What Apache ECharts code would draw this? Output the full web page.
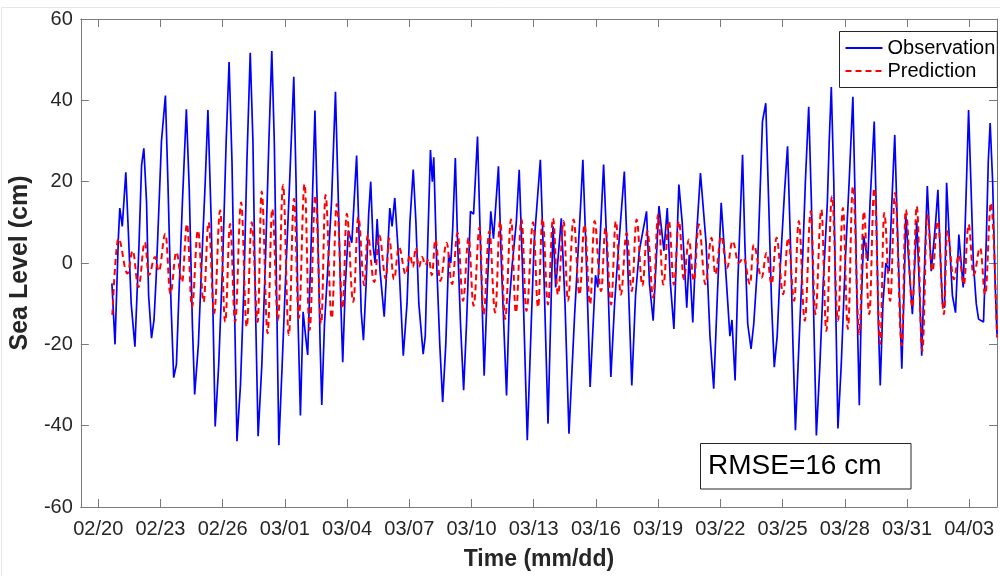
<!DOCTYPE html>
<html>
<head>
<meta charset="utf-8">
<title>Sea Level: Observation vs Prediction</title>
<script src="https://cdn.jsdelivr.net/npm/echarts/dist/echarts.min.js"></script>
<style>
  html, body { margin: 0; padding: 0; background: #fff; }
  #chart { width: 1000px; height: 576px; }
</style>
</head>
<body>
<div id="chart"></div>
<script>
// x values are days since 02/20 00:00, y values in cm

// tick positions (days) and their labels
const tickDays = [0, 3, 6, 9, 12, 15, 18, 21, 24, 27, 30, 33, 36, 39, 42];
const tickLabels = ['02/20', '02/23', '02/26', '03/01', '03/04', '03/07', '03/10', '03/13',
    '03/16', '03/19', '03/22', '03/25', '03/28', '03/31', '04/03'];

// observation (blue solid)
const obsDay = [
    0.66, 0.81, 0.97, 1.04, 1.16, 1.33, 1.45, 1.59, 1.77, 1.97,
    2.09, 2.20, 2.33, 2.43, 2.57, 2.69, 2.79, 2.96, 3.05, 3.24,
    3.36, 3.51, 3.64, 3.77, 3.89, 4.06, 4.25, 4.39, 4.54, 4.65,
    4.83, 4.99, 5.16, 5.29, 5.45, 5.64, 5.81, 6.00, 6.17, 6.31,
    6.45, 6.57, 6.69, 6.86, 7.03, 7.17, 7.33, 7.46, 7.58, 7.71,
    7.89, 8.06, 8.23, 8.37, 8.49, 8.61, 8.71, 8.87, 9.04, 9.23,
    9.43, 9.54, 9.64, 9.75, 9.88, 10.00, 10.10, 10.24, 10.45, 10.58,
    10.70, 10.78, 10.91, 11.05, 11.25, 11.44, 11.58, 11.70, 11.79, 11.92,
    12.06, 12.23, 12.46, 12.59, 12.68, 12.79, 12.92, 13.04, 13.14, 13.26,
    13.35, 13.45, 13.59, 13.79, 13.93, 14.06, 14.17, 14.30, 14.50, 14.71,
    14.89, 15.03, 15.19, 15.32, 15.46, 15.67, 15.77, 15.89, 16.02, 16.11,
    16.18, 16.32, 16.47, 16.61, 16.76, 16.90, 17.00, 17.09, 17.22, 17.33,
    17.47, 17.62, 17.76, 17.95, 18.10, 18.29, 18.43, 18.61, 18.77, 18.93,
    19.06, 19.30, 19.44, 19.69, 19.82, 19.97, 20.16, 20.30, 20.45, 20.69,
    20.88, 21.02, 21.32, 21.45, 21.69, 21.93, 22.06, 22.33, 22.51, 22.70,
    22.97, 23.27, 23.37, 23.51, 23.72, 23.98, 24.09, 24.37, 24.52, 24.72,
    24.90, 25.05, 25.37, 25.53, 25.73, 25.91, 26.09, 26.44, 26.58, 26.76,
    27.04, 27.28, 27.44, 27.59, 27.76, 28.00, 28.16, 28.38, 28.50, 28.67,
    28.83, 29.04, 29.20, 29.31, 29.50, 29.68, 29.84, 30.04, 30.17, 30.36,
    30.46, 30.56, 30.71, 30.84, 31.07, 31.18, 31.32, 31.48, 31.61, 31.80,
    32.03, 32.19, 32.33, 32.47, 32.60, 32.74, 32.90, 33.10, 33.24, 33.38,
    33.50, 33.62, 33.79, 33.96, 34.10, 34.26, 34.39, 34.51, 34.63, 34.80,
    34.96, 35.16, 35.25, 35.35, 35.47, 35.56, 35.67, 35.83, 36.02, 36.21,
    36.39, 36.50, 36.59, 36.70, 36.81, 36.91, 37.11, 37.22, 37.42, 37.53,
    37.62, 37.71, 37.84, 37.98, 38.14, 38.27, 38.41, 38.53, 38.65, 38.75,
    38.87, 38.94, 39.09, 39.26, 39.47, 39.59, 39.71, 39.85, 39.98, 40.17,
    40.38, 40.49, 40.62, 40.71, 40.81, 40.91, 41.05, 41.19, 41.34, 41.50,
    41.71, 41.84, 41.97, 42.08, 42.20, 42.34, 42.45, 42.69, 42.82, 42.92,
    43.01, 43.13, 43.25, 43.34
];
const obsLevel = [
    -5, -20, 6, 13.5, 9, 22.3, 8, -10, -20.6, 5,
    24, 28.2, 15, -8, -18.5, -14, -4, 18, 30, 41.2,
    20, -10, -28.2, -25, -8, 15, 37.8, 18, -15, -32.3,
    -20, 0, 20, 37.6, 10, -40.2, -25, 0, 30, 49.4,
    25, -10, -43.8, -30, -5, 25, 51.7, 30, -10, -42.6,
    -25, 0, 30, 52.1, 30, -10, -44.8, -25, -3, 20,
    45.8, 20, -15, -37.5, -12, -18, -22.6, 0, 37.5, 10,
    -20, -34.9, -15, -3, 15, 42.1, 15, -10, -24.4, -5,
    8, 5, 26.4, 5, -12, -19, -5, 12, 20, 4,
    0, 10.8, -2, -13.2, 0, 13.5, 9, 16, 0, -22.8,
    -10, 10, 23, 10, -10, -22.4, -18, 5, 27.8, 20,
    26, 0, -20, -34.2, -20, 2, 0, 8, 25.8, 5,
    -15, -31.3, -15, 12.7, 12, 31.1, 5, -27.7, -5, 12.7,
    6, 23.8, 0, -32.6, -10, 0, 10, 22.9, 0, -43.6,
    -15, 5, 25.4, 5, -39.5, 9, -6, 11, -10, -42,
    -13, 15, 25.4, 5, -30.5, -3, -6, 24.2, 5, -28,
    -10, 1, 22.5, 0, -30.1, -8, 3, 12.7, -5, -14.2,
    14, 3, 13.5, -5, -16.2, 19.3, 10, -11, 2, -14.6,
    5, 22.1, 12, 5, -18, -30.9, -10, 14.8, 5, -10,
    -18, -14, -28.9, -5, 26.6, 5, -15, -21.1, -15, 0,
    34.8, 39.3, 15, -10, -25.6, -18, 0, 18, 28.7, 5,
    -20, -41.1, -20, 0, 20, 38.4, 15, -15, -42.4, -25,
    -5, 15, 30, 43.3, 20, -10, -40.7, -25, 0, 20,
    40.9, 15, -10, -35, -8, 6.6, 0.5, 15, 34.8, 10,
    -15, -30.1, -10, 0, -2, 15, 31.5, 10, -10, -26,
    -5, 11.9, 0, -12.6, 10.3, -5, -22.8, 0, 18.9, -2,
    10, 18, 0, -10, -11, 19.7, 5, -8, -12.2, 7,
    -6, 15, 37.6, 20, 0, -10, -13.8, -14.5, 5, 25,
    34.4, 20, -5, -17.5
];

// prediction (red dashed), highs and lows
const predDay = [
    0.68, 0.97, 1.41, 1.66, 1.94, 2.25, 2.44, 2.74, 2.92, 3.24,
    3.48, 3.77, 4.04, 4.28, 4.52, 4.81, 5.08, 5.32, 5.59, 5.88,
    6.12, 6.36, 6.60, 6.89, 7.16, 7.40, 7.69, 7.88, 8.17, 8.39,
    8.67, 8.91, 9.19, 9.44, 9.67, 9.95, 10.19, 10.47, 10.75, 10.96,
    11.26, 11.50, 11.79, 11.98, 12.30, 12.54, 12.83, 12.99, 13.31, 13.55,
    13.87, 14.03, 14.26, 14.50, 14.83, 15.03, 15.18, 15.31, 15.46, 15.62,
    15.77, 15.94, 16.09, 16.26, 16.50, 16.80, 17.06, 17.33, 17.59, 17.86,
    18.10, 18.39, 18.58, 18.86, 19.14, 19.38, 19.62, 19.91, 20.14, 20.41,
    20.65, 20.97, 21.21, 21.42, 21.69, 21.93, 22.17, 22.44, 22.65, 22.92,
    23.21, 23.45, 23.72, 23.93, 24.25, 24.46, 24.73, 24.96, 25.20, 25.48,
    25.73, 25.96, 26.24, 26.48, 26.76, 27.00, 27.25, 27.52, 27.76, 28.00,
    28.24, 28.48, 28.72, 28.96, 29.28, 29.57, 29.76, 30.04, 30.32, 30.59,
    30.88, 31.12, 31.43, 31.60, 31.99, 32.23, 32.47, 32.71, 33.03, 33.27,
    33.56, 33.78, 34.07, 34.36, 34.58, 34.87, 35.11, 35.38, 35.67, 35.91,
    36.15, 36.39, 36.70, 36.92, 37.18, 37.42, 37.71, 37.90, 38.19, 38.42,
    38.75, 38.94, 39.26, 39.47, 39.74, 39.98, 40.22, 40.49, 40.78, 40.94,
    41.26, 41.50, 41.74, 41.97, 42.21, 42.53, 42.77, 43.05, 43.34
];
const predLevel = [
    -12.8, 6, -2.6, 3, -5.9, 5.1, -3, 1.5, -2, 7.2,
    -7.5, 2.7, -4.7, 9.6, -10.8, 8, -9.6, 10, -12.4, 12.9,
    -14.5, 9.6, -14.5, 14.9, -15.7, 10, -14.5, 17.6, -17.3, 13.3,
    -14, 19.2, -17.7, 15.8, -13.6, 19.4, -16.5, 16.6, -14.9, 16.7,
    -13.6, 14.5, -11.2, 12.1, -9.6, 11.3, -5.5, 6.8, -4.7, 6.8,
    -3.9, 6, -4, 3.9, -2.8, 2, -1, 3.8, -1, 1.5,
    -0.5, 1, -3, 5.8, -4.4, 5, -5.2, 7.4, -9.3, 6.2,
    -10.5, 8.7, -12.6, 7.8, -12.2, 10.3, -13.8, 10.7, -12.2, 10.7,
    -11.8, 10, -10.9, 11, -10.2, 11, -7.8, 10.3, -9.3, 10.7,
    -7.8, 9.5, -10.2, 10.3, -6.9, 8.6, -10.2, 10.3, -7.8, 7.4,
    -6.9, 10.7, -5.6, 7.8, -8.5, 11.9, -5.3, 10.3, -5.3, 10.3,
    -4, 5.8, -4.4, 9.5, -5.2, 6.2, -2.8, 6.6, -1.2, 5.4,
    0, 1.3, -5.2, 4.5, -3.6, 2.5, -5.2, 6.2, -7.7, 6.2,
    -9.3, 10.3, -14.2, 12.7, -12.6, 13.1, -16.7, 16.4, -14.2, 13.5,
    -16.2, 18.9, -17.5, 12.7, -12.6, 18.4, -19.9, 12.3, -9.3, 17.2,
    -20.3, 13.1, -10.9, 14, -21.6, 11.9, -2, 10.3, -12.6, 7.8,
    -4, 2, -5.3, 9.5, -3, 3.7, -7.8, 14.8, -18.3
];

const FONT = '"Liberation Sans", Arial, Helvetica, sans-serif';
const AXIS_GRAY = '#7a7a7a';
const TEXT_DARK = '#262626';

const chart = echarts.init(document.getElementById('chart'));

const obsData = obsDay.map((d, i) => [d, obsLevel[i]]);
const predData = predDay.map((d, i) => [d, predLevel[i]]);

function dayLabel(v) {
    const k = tickDays.indexOf(Math.round(v));
    return k >= 0 ? tickLabels[k] : '';
}

// shared axis look: gray box, inward ticks, never crossing at zero
const lineLook = { show: true, onZero: false, lineStyle: { color: AXIS_GRAY, width: 1 } };
const tickLook = { show: true, inside: true, length: 8, lineStyle: { color: AXIS_GRAY, width: 1 } };

const option = {
    animation: false,
    backgroundColor: '#fff',
    grid: { left: 75, top: 19, right: 3, bottom: 67 },
    xAxis: [{
        type: 'value',
        position: 'bottom',
        min: -0.84,
        max: 43.34,
        name: 'Time (mm/dd)',
        nameLocation: 'middle',
        nameGap: 41,
        nameTextStyle: { fontSize: 23, fontWeight: 'bold', color: TEXT_DARK, fontFamily: FONT },
        axisLine: lineLook,
        axisTick: Object.assign({ customValues: tickDays }, tickLook),
        axisLabel: {
            customValues: tickDays,
            interval: 0,
            formatter: dayLabel,
            fontSize: 20,
            margin: 12,
            color: TEXT_DARK,
            fontFamily: FONT
        },
        splitLine: { show: false }
    }, {
        type: 'value',
        position: 'top',
        min: -0.84,
        max: 43.34,
        axisLine: lineLook,
        axisTick: Object.assign({ customValues: tickDays }, tickLook),
        axisLabel: { show: false },
        splitLine: { show: false }
    }],
    yAxis: [{
        type: 'value',
        position: 'left',
        min: -60,
        max: 60,
        interval: 20,
        name: 'Sea Level (cm)',
        nameLocation: 'middle',
        nameGap: 40,
        nameTextStyle: { fontSize: 25, fontWeight: 'bold', color: TEXT_DARK, fontFamily: FONT },
        axisLine: lineLook,
        axisTick: tickLook,
        axisLabel: { fontSize: 20, margin: 8, color: TEXT_DARK, fontFamily: FONT },
        splitLine: { show: false }
    }, {
        type: 'value',
        position: 'right',
        min: -60,
        max: 60,
        interval: 20,
        axisLine: lineLook,
        axisTick: tickLook,
        axisLabel: { show: false },
        splitLine: { show: false }
    }],
    legend: {
        orient: 'vertical',
        left: 839.5,
        top: 31.5,
        padding: [5, 2, 5, 5],
        itemGap: 0,
        itemWidth: 37,
        itemHeight: 14,
        backgroundColor: '#fff',
        borderColor: TEXT_DARK,
        borderWidth: 1,
        borderRadius: 0,
        itemStyle: { opacity: 0 },   // line only, no marker in the key
        textStyle: { fontSize: 20, lineHeight: 23, color: '#000', fontFamily: FONT },
        data: ['Observation', 'Prediction']
    },
    series: [{
        name: 'Observation',
        type: 'line',
        data: obsData,
        symbol: 'none',
        smooth: false,
        lineStyle: { color: '#0000ff', width: 1.7 },
        itemStyle: { color: '#0000ff' }
    }, {
        name: 'Prediction',
        type: 'line',
        data: predData,
        symbol: 'none',
        smooth: 0.4,
        smoothMonotone: 'x',
        lineStyle: { color: '#ff0000', width: 2, type: [6, 4] },
        itemStyle: { color: '#ff0000' }
    }],
    graphic: [
        // faint frame of the original figure
        { type: 'polyline', shape: { points: [[1.5, 576], [1.5, 7.5], [1000, 7.5]] },
          style: { stroke: '#e6e6e6', lineWidth: 1, fill: null }, silent: true },
        // RMSE annotation box
        { type: 'rect', shape: { x: 700.5, y: 443.5, width: 210.5, height: 45.5 },
          style: { fill: '#fff', stroke: TEXT_DARK, lineWidth: 1 }, z: 10 },
        { type: 'text', x: 708, y: 466.5, z: 11,
          style: { text: 'RMSE=16 cm', fontSize: 28, fontFamily: FONT, fill: '#000', verticalAlign: 'middle' } }
    ]
};

chart.setOption(option);
</script>
</body>
</html>
